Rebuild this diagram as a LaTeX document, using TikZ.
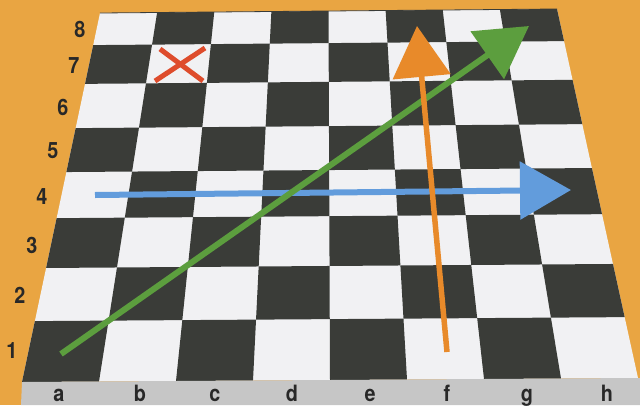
\documentclass[tikz,border=0pt]{standalone}
\usepackage{fontspec}
\setmainfont{TeX Gyre Heros}[FakeStretch=0.88]
\usetikzlibrary{arrows.meta,calc,positioning}

\definecolor{bgorange}{RGB}{233,165,66}
\definecolor{darksq}{RGB}{58,60,56}
\definecolor{lightsq}{RGB}{241,241,243}
\definecolor{edgegrey}{RGB}{198,198,198}
\definecolor{labelgrey}{RGB}{40,40,40}
\definecolor{xred}{RGB}{222,76,44}
\definecolor{moveblue}{RGB}{98,156,220}
\definecolor{moveorange}{RGB}{232,138,42}
\definecolor{movegreen}{RGB}{92,158,62}

\tikzstyle{ranklabel} = [font=\fontsize{22.5}{22.5}\selectfont\bfseries, text=labelgrey, inner sep=0pt, anchor=base]
\tikzstyle{filelabel} = [ranklabel]
\tikzstyle{darksquare} = [fill=darksq]
\tikzstyle{movearrow} = [line width=6pt, -{Triangle[length=51pt,width=57pt]}]
\tikzstyle{crossline} = [draw=xred, line width=5pt]

\begin{document}
\begin{tikzpicture}[x=1pt, y=-1pt]
    \useasboundingbox (0,0) rectangle (640,405);
    \fill[bgorange] (0,0) rectangle (640,405);

    % Board
    \coordinate (TL) at (100,13);
    \coordinate (TR) at (557,9);
    \coordinate (BL) at (22,382);
    \coordinate (BR) at (638,378);
    \fill[lightsq] (TL) -- (TR) -- (BR) -- (BL) -- cycle;
    \foreach \j/\v in {0/0,1/0.087,2/0.192,3/0.312,4/0.431,5/0.556,6/0.691,7/0.835,8/1}
        \foreach \i in {0,...,8}
            \coordinate (p-\i-\j) at ($($(TL)!\i/8!(TR)$)!\v!($(BL)!\i/8!(BR)$)$);
    \foreach \i in {0,...,7}
        \foreach \j in {0,...,7} {
            \pgfmathtruncatemacro{\odd}{mod(\i+\j,2)}
            \pgfmathtruncatemacro{\ii}{\i+1}
            \pgfmathtruncatemacro{\jj}{\j+1}
            \ifnum\odd=1
                \fill[darksquare] (p-\i-\j) -- (p-\ii-\j) -- (p-\ii-\jj) -- (p-\i-\jj) -- cycle;
            \fi
        }
    \draw[darksq, line width=0.8pt] (TL) -- (TR);
    \fill[edgegrey] (BL) -- (BR) -- (640,378) -- (640,405) -- (21,405) -- cycle;

    % Labels
    \foreach \n/\x/\y in {8/80/37,7/74/73,6/63/115,5/53/158,4/42/204,3/32/253,2/20/303,1/12/358}
        \node[ranklabel] (rank\n) at (\x,\y) {\n};
    \foreach \l/\x in {a/59,b/140,c/215,d/292,e/370,f/447,g/527,h/607}
        \node[filelabel] (file\l) at (\x,401) {\l};

    % Cross
    \coordinate (xa) at (160,49);
    \coordinate (xb) at (203,81);
    \coordinate (xc) at (205,48);
    \coordinate (xd) at (155,81);
    \draw[crossline] (xa) -- (xb);
    \draw[crossline] (xc) -- (xd);

    % Moves
    \coordinate (bluestart) at (95,195);
    \coordinate (blueend) at (571,190);
    \coordinate (greenstart) at (61,354);
    \coordinate (greenend) at (529,26);
    \coordinate (orangestart) at (447,352);
    \coordinate (orangeend) at (417,26);
    \draw[movearrow, moveblue] (bluestart) -- (blueend);
    \draw[movearrow, movegreen] (greenstart) -- (greenend);
    \draw[movearrow, moveorange, line width=5.5pt] (orangestart) -- (orangeend);
\end{tikzpicture}
\end{document}
